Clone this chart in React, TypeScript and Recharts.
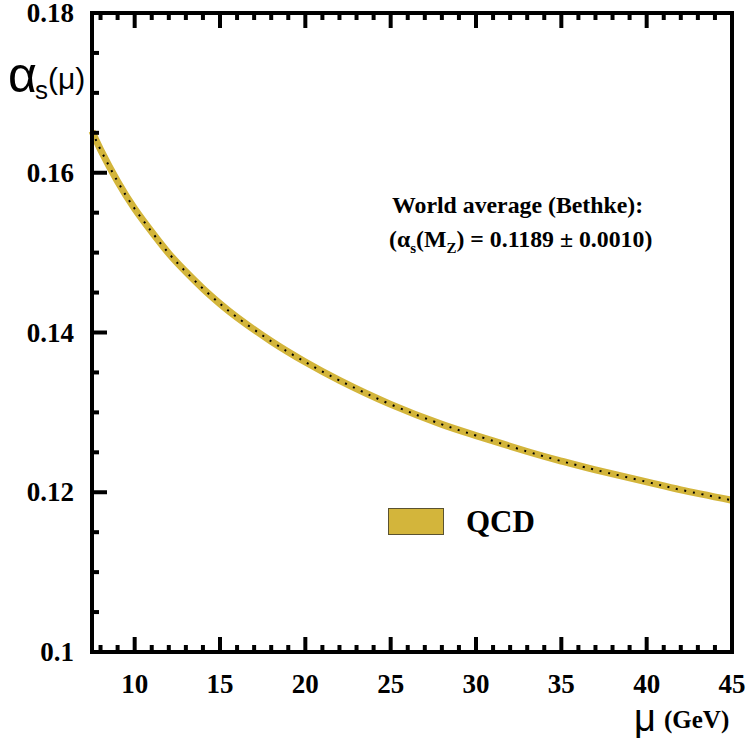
import { LineChart, Line, XAxis, YAxis, Legend } from 'recharts';

// running coupling
const mu = [7.5, 8, 9, 10, 11, 12, 13, 14, 15, 16, 18, 20, 22, 25, 28, 30, 33, 35, 37, 40, 42, 45];
const alphaS = [0.1652, 0.1629, 0.1589, 0.1555, 0.1526, 0.1499, 0.1476, 0.1455, 0.1436, 0.1419, 0.1389, 0.1363, 0.134, 0.131, 0.1285, 0.1271, 0.1251, 0.1239, 0.1228, 0.1213, 0.1203, 0.119];

const xTicks = [8, 9, 10, 11, 12, 13, 14, 15, 16, 17, 18, 19, 20, 21, 22, 23, 24, 25, 26, 27, 28, 29, 30, 31, 32, 33, 34, 35, 36, 37, 38, 39, 40, 41, 42, 43, 44, 45];
const xMajor = [10, 15, 20, 25, 30, 35, 40, 45];
const yTicks = [0.1, 0.105, 0.11, 0.115, 0.12, 0.125, 0.13, 0.135, 0.14, 0.145, 0.15, 0.155, 0.16, 0.165, 0.17, 0.175, 0.18];
const yMajor = [0.1, 0.12, 0.14, 0.16, 0.18];

const data = mu.map((m, i) => ({ mu: m, qcd: alphaS[i] }));

const GOLD = '#d3b53b';
const SERIF = '"Liberation Serif", "Times New Roman", serif';
const SANS = '"Liberation Sans", Arial, sans-serif';

const isXMajor = (v: number) => xMajor.includes(v);
const isYMajor = (v: number) => yMajor.some(m => Math.abs(m - v) < 1e-9);

const BottomTick = ({ x, y, payload }: any) => {
  const major = isXMajor(payload.value);
  return (
    <g>
      <line x1={x} x2={x} y1={y} y2={y - (major ? 15 : 7)} stroke="#000" strokeWidth={4} />
      {major && (
        <text x={x} y={y + 41} textAnchor="middle" fontFamily={SERIF} fontWeight="bold" fontSize={27} fill="#000">
          {payload.value}
        </text>
      )}
    </g>
  );
};

const TopTick = ({ x, y, payload }: any) => {
  const major = isXMajor(payload.value);
  return <line x1={x} x2={x} y1={y} y2={y + (major ? 15 : 7)} stroke="#000" strokeWidth={4} />;
};

const LeftTick = ({ x, y, payload }: any) => {
  const major = isYMajor(payload.value);
  return (
    <g>
      <line x1={x} x2={x + (major ? 15 : 7)} y1={y} y2={y} stroke="#000" strokeWidth={4} />
      {major && (
        <text x={x - 18} y={y + 9} textAnchor="end" fontFamily={SERIF} fontWeight="bold" fontSize={27} fill="#000">
          {String(payload.value)}
        </text>
      )}
    </g>
  );
};

const RightTick = ({ x, y, payload }: any) => {
  const major = isYMajor(payload.value);
  return <line x1={x} x2={x - (major ? 15 : 7)} y1={y} y2={y} stroke="#000" strokeWidth={4} />;
};

const LegendBox = () => (
  <div style={{ display: 'flex', alignItems: 'center' }}>
    <div style={{ width: 54, height: 25, background: GOLD, border: '1px solid #5a5230' }} />
    <span style={{ marginLeft: 22, fontFamily: SERIF, fontWeight: 'bold', fontSize: 31, color: '#000', lineHeight: '31px' }}>QCD</span>
  </div>
);

const frame = { stroke: '#000', strokeWidth: 4, strokeLinecap: 'square' as const };

export default function App() {
  return (
    <div style={{ position: 'absolute', left: 0, top: 0, width: 750, height: 753, background: '#fff' }}>
      <LineChart width={750} height={753} data={data} margin={{ top: 0, right: 0, bottom: 0, left: 0 }}>
        <XAxis xAxisId="b" dataKey="mu" type="number" domain={[7.5, 45]} ticks={xTicks} interval={0}
          orientation="bottom" height={101} tickSize={0} tickMargin={0} tickLine={false} axisLine={frame} tick={<BottomTick />} />
        <XAxis xAxisId="t" dataKey="mu" type="number" domain={[7.5, 45]} ticks={xTicks} interval={0}
          orientation="top" height={13} tickSize={0} tickMargin={0} tickLine={false} axisLine={frame} tick={<TopTick />} />
        <YAxis yAxisId="l" type="number" domain={[0.1, 0.18]} ticks={yTicks} interval={0}
          orientation="left" width={92} tickSize={0} tickMargin={0} tickLine={false} axisLine={frame} tick={<LeftTick />} />
        <YAxis yAxisId="r" type="number" domain={[0.1, 0.18]} ticks={yTicks} interval={0}
          orientation="right" width={18} tickSize={0} tickMargin={0} tickLine={false} axisLine={frame} tick={<RightTick />} />
        <Line xAxisId="b" yAxisId="l" type="natural" dataKey="qcd" name="QCD" stroke={GOLD} strokeWidth={7}
          dot={false} isAnimationActive={false} />
        <Line xAxisId="b" yAxisId="l" type="natural" dataKey="qcd" legendType="none" stroke="#000" strokeWidth={2}
          strokeDasharray="2 6.7" dot={false} isAnimationActive={false} />
        <Legend layout="horizontal" verticalAlign="middle" align="center" content={<LegendBox />}
          wrapperStyle={{ left: 388, top: 506, width: 'auto', height: 'auto' }} />
      </LineChart>
      <svg width={750} height={753} style={{ position: 'absolute', left: 0, top: 0, pointerEvents: 'none' }}>
        <text x={8} y={92} fontFamily={SANS} fontSize={50} fill="#000">α</text>
        <text x={35} y={99} fontFamily={SANS} fontSize={26} fill="#000">s</text>
        <text x={48} y={89} fontFamily={SANS} fontSize={30} fill="#000">(μ)</text>
        <text x={634} y={731} fontFamily={SANS} fontSize={38} fill="#000">μ</text>
        <text x={664} y={728} fontFamily={SERIF} fontWeight="bold" fontSize={25} fill="#000">(GeV)</text>
        <text x={392} y={213} fontFamily={SERIF} fontWeight="bold" fontSize={23.8} fill="#000">World average (Bethke):</text>
        <text x={389} y={247} fontFamily={SERIF} fontWeight="bold" fontSize={23.8} fill="#000">
          (α<tspan dy={6} fontSize={15}>s</tspan><tspan dy={-6}>(M</tspan><tspan dy={6} fontSize={15}>Z</tspan><tspan dy={-6}>) = 0.1189 ± 0.0010)</tspan>
        </text>
      </svg>
    </div>
  );
}
